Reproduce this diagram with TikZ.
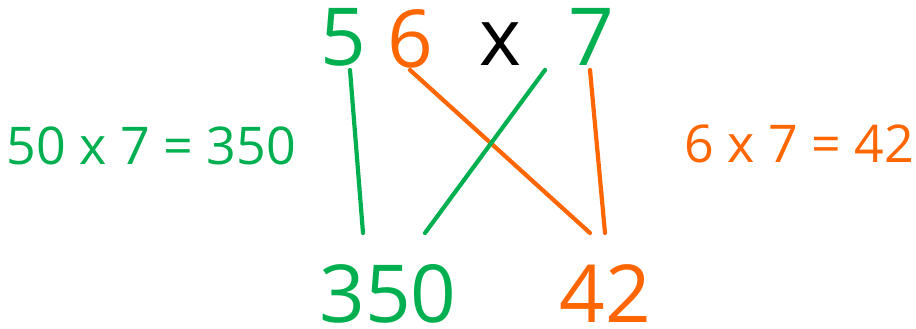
\documentclass[tikz,border=0pt]{standalone}
\usepackage{fontspec}
\setmainfont{Open Sans}
\definecolor{mgreen}{HTML}{00B050}
\definecolor{morange}{HTML}{FF6600}
\begin{document}
\begin{tikzpicture}[x=1pt,y=-1pt,
  big/.style={inner sep=0pt,anchor=base,text depth=0pt,font=\fontsize{80}{80}\selectfont},
  eqn/.style={inner sep=0pt,anchor=base,text depth=0pt,font=\fontsize{52}{52}\selectfont},
  link/.style={line width=4.2pt,line cap=round}]
\useasboundingbox (0,0) rectangle (916,329);
\node[big,text=mgreen] (n5) at (343,66) {5};
\node[big,text=morange] (n6) at (410,67) {6};
\node[big] (times) at (500,66) {x};
\node[big,text=mgreen] (n7) at (591,66) {7};
\node[big,text=mgreen] (r350) at (388,322) {350};
\node[big,text=morange] (r42) at (605,322) {42};
\node[eqn,text=mgreen] (lhs) at (151,164) {50 x 7 = 350};
\node[eqn,text=morange] (rhs) at (799,162) {6 x 7 = 42};
\coordinate (a5) at (350,70);
\coordinate (b5) at (363,233);
\coordinate (a6) at (410,70);
\coordinate (b6) at (590,233);
\coordinate (a7) at (545,70);
\coordinate (b7) at (425,233);
\coordinate (c7) at (590,70);
\coordinate (d7) at (605,233);
\draw[link,mgreen] (a5) -- (b5);
\draw[link,morange] (a6) -- (b6);
\draw[link,mgreen] (a7) -- (b7);
\draw[link,morange] (c7) -- (d7);
\end{tikzpicture}
\end{document}
